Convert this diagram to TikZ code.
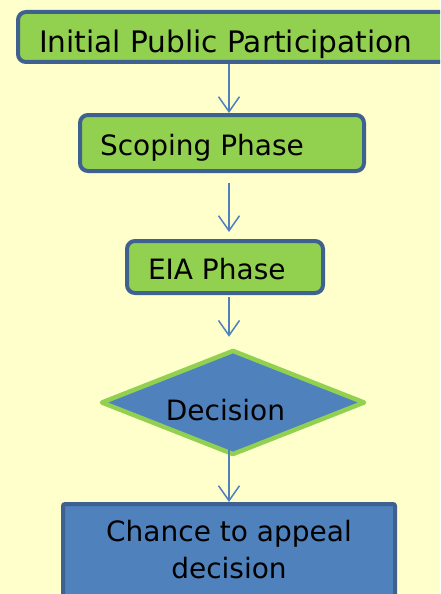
\documentclass[tikz,border=0pt]{standalone}
\usepackage{fontspec}
\setmainfont{DejaVu Sans}
\usetikzlibrary{shapes.geometric,arrows.meta}
\definecolor{bgyellow}{HTML}{FFFFCC}
\definecolor{boxgreen}{HTML}{92D050}
\definecolor{boxedge}{HTML}{3F6190}
\definecolor{arrowblue}{HTML}{4F81BD}
\definecolor{fillblue}{HTML}{4F81BD}
\tikzset{
  greenbox/.style={draw=boxedge, fill=boxgreen, line width=4pt, rounded corners=8pt, inner sep=0pt},
  bluebox/.style={draw=boxedge, fill=fillblue, line width=4pt, rounded corners=2pt, inner sep=0pt},
  decbox/.style={diamond, draw=boxgreen, fill=fillblue, line width=4.5pt, line join=round, inner sep=0pt},
  flow/.style={draw=arrowblue, line width=1.5pt, -{Straight Barb[length=15pt,width=21pt,line width=1.5pt]}}
}
\begin{document}
\begin{tikzpicture}[x=1pt,y=-1pt,font=\fontsize{28}{36.5}\selectfont]
\useasboundingbox (0,0) rectangle (440,594);
\clip (0,0) rectangle (440,594);
\fill[bgyellow] (0,0) rectangle (440,594);
\coordinate (axis) at (229,0);
\node[greenbox, minimum width=444pt, minimum height=50pt] (ipp) at (240,37)
  {\makebox[402pt][l]{\raisebox{-16pt}[0pt][0pt]{\fontsize{29.6}{36}\selectfont Initial Public Participation}}};
\node[greenbox, minimum width=284pt, minimum height=56pt] (scope) at (222,143)
  {\makebox[244pt][l]{\raisebox{-12pt}[0pt][0pt]{Scoping Phase}}};
\node[greenbox, minimum width=196pt, minimum height=52pt] (eia) at (225,267)
  {\makebox[154pt][l]{\raisebox{-12pt}[0pt][0pt]{EIA Phase}}};
\node[decbox, minimum width=264pt, minimum height=105pt] (dec) at (233,402.5)
  {\makebox[0pt]{\raisebox{-17.5pt}[0pt][0pt]{Decision}\hspace*{15pt}}};
\node[bluebox, minimum width=332pt, minimum height=116pt] (appeal) at (229,562)
  {\makebox[0pt]{\raisebox{20.3pt}[0pt][0pt]{\begin{tabular}[t]{@{}c@{}}Chance to appeal\\decision\end{tabular}}}};
\draw[flow] (ipp.south -| axis) -- (scope.north -| axis);
\draw[flow, shorten <=10pt, shorten >=7pt] (scope.south -| axis) -- (eia.north -| axis);
\draw[flow, shorten <=2pt, shorten >=11pt] (eia.south -| axis) -- (dec.north -| axis);
\draw[flow, shorten <=-12pt] (dec.south -| axis) -- (appeal.north -| axis);
\end{tikzpicture}
\end{document}
